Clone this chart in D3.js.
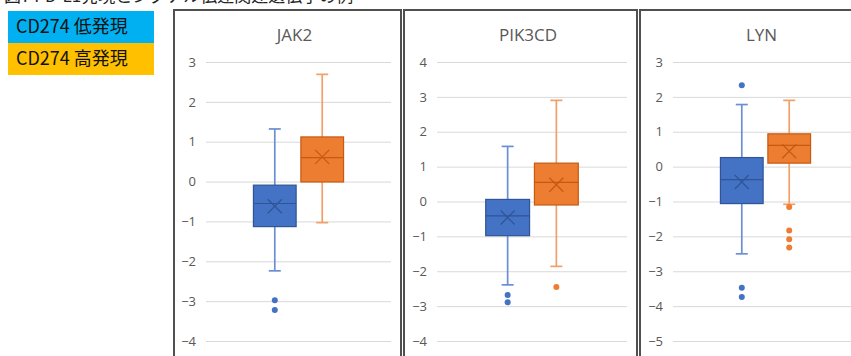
<!DOCTYPE html>
<html lang="ja">
<head>
<meta charset="UTF-8"/>
<title>CD274 box plots</title>
<script src="https://d3js.org/d3.v7.min.js"></script>
<style>
	body { margin: 0; background: #fff; }
	.axis text { font-family: "Open Sans", "Liberation Sans", sans-serif; font-size: 13px; fill: #595959; }
	.axis line { stroke: #d9d9d9; stroke-width: 1px; }
	.axis path { display: none; }
	.ptitle { font-family: "Open Sans", "Liberation Sans", sans-serif; font-size: 17px; fill: #595959; }
	.legend text { font-family: "Noto Sans CJK JP", sans-serif; font-size: 18px; fill: #111; }
</style>
</head>
<body>
<div id="chart"></div>
<script>
// data
var genes = ["JAK2", "PIK3CD", "LYN"];
var groups = ["CD274 低発現", "CD274 高発現"];
var yTicks = [[-4, -3, -2, -1, 0, 1, 2, 3], [-4, -3, -2, -1, 0, 1, 2, 3, 4], [-5, -4, -3, -2, -1, 0, 1, 2, 3]];
// [lower whisker, Q1, median, Q3, upper whisker]
var lowStats = [[-2.24, -1.13, -0.55, -0.09, 1.32], [-2.39, -0.98, -0.41, 0.06, 1.58], [-2.50, -1.06, -0.37, 0.26, 1.78]];
var lowMeans = [-0.62, -0.46, -0.44];
var lowOutliers = [[-2.98, -3.22], [-2.68, -2.89], [2.33, -3.47, -3.74]];
var highStats = [[-1.03, -0.01, 0.60, 1.12, 2.69], [-1.86, -0.10, 0.55, 1.10, 2.90], [-1.08, 0.10, 0.61, 0.94, 1.90]];
var highMeans = [0.62, 0.48, 0.44];
var highOutliers = [[], [-2.45], [-1.16, -1.83, -2.08, -2.32]];

var w = 851, h = 356;
var fills = ["#4472c4", "#ed7d31"];
var strokes = ["#2f5597", "#c55a11"];
var whisk = ["#6b8fd3", "#f0a068"];
var legendFills = ["#00b0f0", "#ffc000"];

// panel frames and plot areas
var frames = [[174, 401], [404, 637], [640, 860]];
var plotX = [[206, 391], [437, 627], [673, 858]];
var plotTop = 62, plotBottom = 341;

var svg = d3.select("#chart").append("svg")
	.attr("width", w)
	.attr("height", h);

// caption, cut off at the top edge like in the source image
svg.append("text")
	.attr("x", 4)
	.attr("y", 2)
	.style("font-family", "Noto Sans CJK JP, sans-serif")
	.style("font-size", "17px")
	.style("fill", "#222")
	.text("図7 PD-L1発現とシグナル伝達関連遺伝子の例");

// legend
var legend = svg.append("g").attr("class", "legend");
groups.forEach(function(g, i) {
	legend.append("rect")
		.attr("x", 8)
		.attr("y", 11 + i * 32)
		.attr("width", 146)
		.attr("height", 32)
		.attr("fill", legendFills[i]);
	legend.append("text")
		.attr("x", 16)
		.attr("y", 33 + i * 32)
		.text(g);
});

genes.forEach(function(gene, k) {
	var g = svg.append("g");

	g.append("rect")
		.attr("x", frames[k][0])
		.attr("y", 10)
		.attr("width", frames[k][1] - frames[k][0])
		.attr("height", 400)
		.attr("fill", "none")
		.attr("stroke", "#505050")
		.attr("stroke-width", 2);

	var ticks = yTicks[k];
	var yScale = d3.scaleLinear()
		.domain([ticks[0], ticks[ticks.length - 1]])
		.range([plotBottom, plotTop]);

	var xScale = d3.scaleBand()
		.domain(groups)
		.range(plotX[k])
		.paddingInner(0.1)
		.paddingOuter(1.0);

	var yAxis = d3.axisLeft(yScale)
		.tickValues(ticks)
		.tickFormat(d3.format("d"))
		.tickSizeInner(-(plotX[k][1] - plotX[k][0]))
		.tickSizeOuter(0)
		.tickPadding(10);

	g.append("g")
		.attr("class", "axis")
		.attr("transform", "translate(" + plotX[k][0] + ",0)")
		.call(yAxis);

	g.append("text")
		.attr("class", "ptitle")
		.attr("x", (plotX[k][0] + plotX[k][1]) / 2 - 4)
		.attr("y", 41)
		.attr("text-anchor", "middle")
		.text(gene);

	var sets = [
		{ stats: lowStats[k], mean: lowMeans[k], out: lowOutliers[k] },
		{ stats: highStats[k], mean: highMeans[k], out: highOutliers[k] }
	];

	sets.forEach(function(s, i) {
		var x0 = xScale(groups[i]);
		var bw = xScale.bandwidth();
		var cx = x0 + bw / 2;
		var st = s.stats;
		var cap = 6;

		// whiskers
		g.append("line")
			.attr("x1", cx).attr("x2", cx)
			.attr("y1", yScale(st[0])).attr("y2", yScale(st[1]))
			.attr("stroke", whisk[i]).attr("stroke-width", 1.7);
		g.append("line")
			.attr("x1", cx).attr("x2", cx)
			.attr("y1", yScale(st[3])).attr("y2", yScale(st[4]))
			.attr("stroke", whisk[i]).attr("stroke-width", 1.7);
		[st[0], st[4]].forEach(function(v) {
			g.append("line")
				.attr("x1", cx - cap).attr("x2", cx + cap)
				.attr("y1", yScale(v)).attr("y2", yScale(v))
				.attr("stroke", whisk[i]).attr("stroke-width", 1.7);
		});

		// box
		g.append("rect")
			.attr("x", x0)
			.attr("y", yScale(st[3]))
			.attr("width", bw)
			.attr("height", yScale(st[1]) - yScale(st[3]))
			.attr("fill", fills[i])
			.attr("stroke", strokes[i])
			.attr("stroke-width", 1.2);

		// median
		g.append("line")
			.attr("x1", x0).attr("x2", x0 + bw)
			.attr("y1", yScale(st[2])).attr("y2", yScale(st[2]))
			.attr("stroke", strokes[i]).attr("stroke-width", 1.2);

		// mean marker (x)
		var my = yScale(s.mean), m = 7;
		g.append("path")
			.attr("d", "M" + (cx - m) + "," + (my - m) + "L" + (cx + m) + "," + (my + m) +
				"M" + (cx - m) + "," + (my + m) + "L" + (cx + m) + "," + (my - m))
			.attr("stroke", strokes[i]).attr("stroke-width", 1.2);

		// outliers
		g.selectAll(null)
			.data(s.out)
			.enter()
			.append("circle")
			.attr("cx", cx)
			.attr("cy", function(d) { return yScale(d); })
			.attr("r", 3)
			.attr("fill", fills[i]);
	});
});
</script>
</body>
</html>
